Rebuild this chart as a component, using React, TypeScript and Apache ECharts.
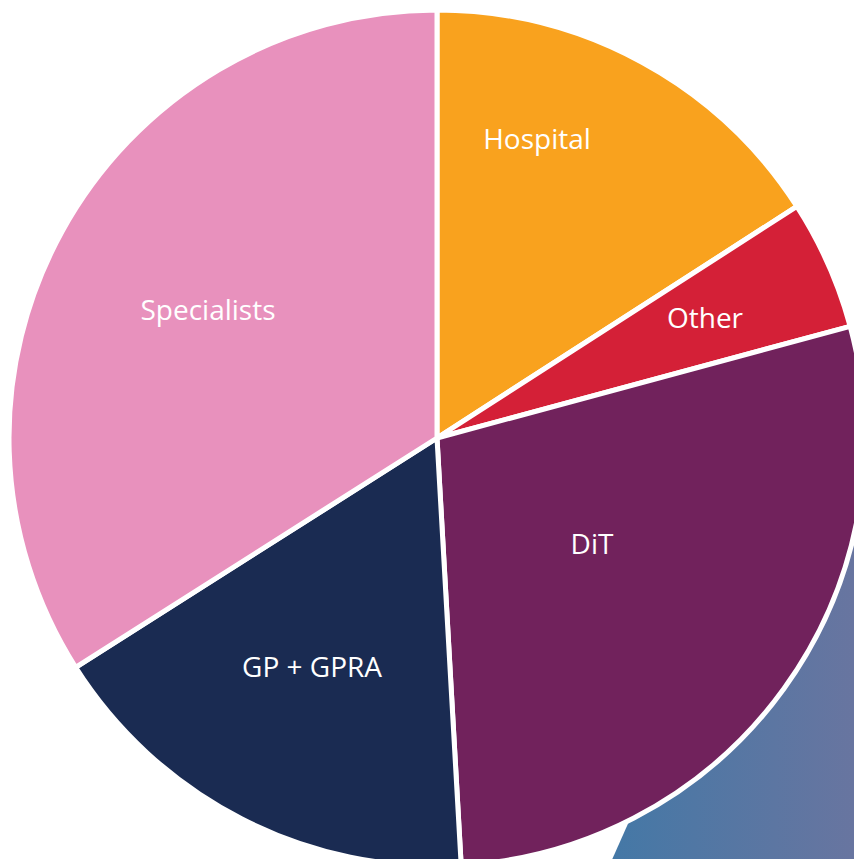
import React, { useEffect, useRef } from "react";
import * as echarts from "echarts";

const categories = ["Hospital", "Other", "DiT", "GP + GPRA", "Specialists"];
const values = [15.9, 4.9, 28.3, 16.9, 34.0];
const colors = ["#f9a21e", "#d42037", "#71225c", "#1a2b52", "#e891bd"];
const labelX = [537, 705, 592, 312, 208];
const labelY = [138, 317, 543, 666, 309];

export default function App() {
  const ref = useRef<HTMLDivElement>(null);
  useEffect(() => {
    if (!ref.current) return;
    const chart = echarts.init(ref.current, undefined, { renderer: "svg" });
    chart.setOption({
      animation: false,
      backgroundColor: "#ffffff",
      graphic: [
        {
          type: "polygon",
          z: 0,
          silent: true,
          shape: {
            points: [
              [599, 889],
              [794, 450],
              [900, 450],
              [900, 889],
            ],
          },
          style: {
            fill: new echarts.graphic.LinearGradient(
              612,
              0,
              854,
              0,
              [
                { offset: 0, color: "#4478a6" },
                { offset: 1, color: "#6875a0" },
              ],
              true
            ),
          },
        },
      ],
      series: [
        {
          type: "pie",
          z: 5,
          center: [437, 438],
          radius: [0, 428],
          startAngle: 90,
          clockwise: true,
          avoidLabelOverlap: false,
          itemStyle: { borderColor: "#ffffff", borderWidth: 5 },
          label: {
            show: true,
            position: "inside",
            formatter: "{b}",
            color: "#ffffff",
            fontFamily: "Open Sans",
            fontSize: 28,
            align: "center",
            verticalAlign: "middle",
          },
          labelLine: { show: false },
          labelLayout: (p: any) => ({
            x: labelX[p.dataIndex],
            y: labelY[p.dataIndex],
            align: "center",
            verticalAlign: "middle",
          }),
          emphasis: { disabled: true },
          data: categories.map((name, i) => ({
            name,
            value: values[i],
            itemStyle: { color: colors[i] },
          })),
        },
      ],
    });
    return () => chart.dispose();
  }, []);
  return (
    <div
      ref={ref}
      style={{ position: "fixed", left: 0, top: 0, width: 854, height: 859 }}
    />
  );
}
